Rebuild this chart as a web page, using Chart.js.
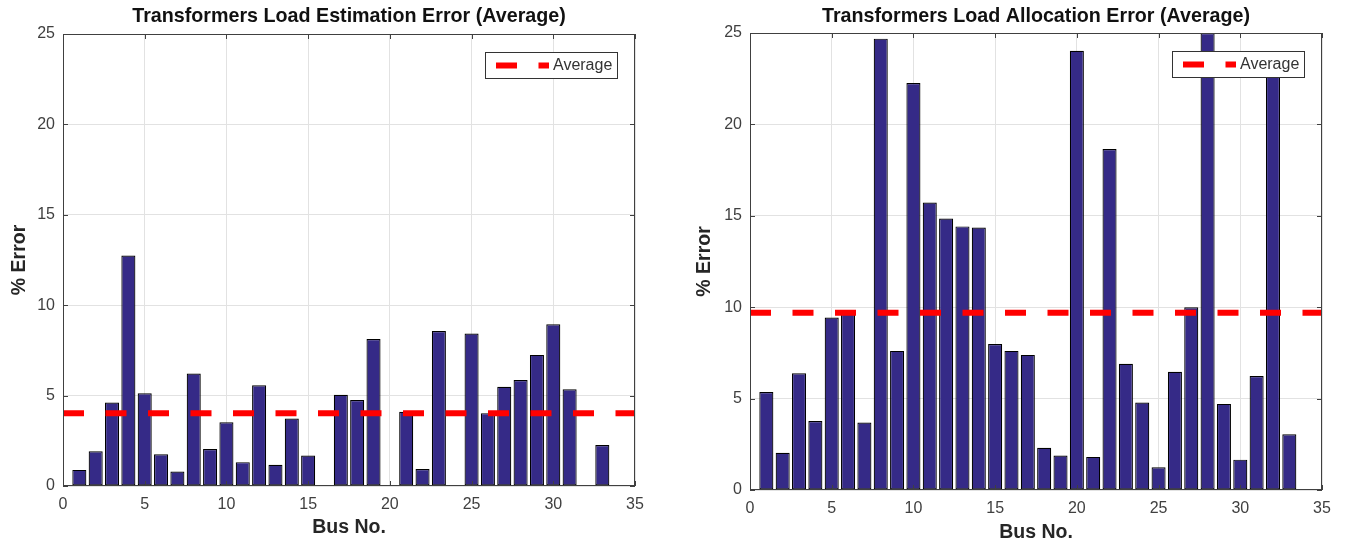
<!DOCTYPE html>
<html>
<head>
<meta charset="utf-8">
<script src="https://cdn.jsdelivr.net/npm/chart.js@4.4.1/dist/chart.umd.min.js"></script>
<style>
  html, body { margin: 0; padding: 0; background: #fff; }
  body { width: 1347px; height: 546px; position: relative; overflow: hidden; }
  canvas { position: absolute; top: 0; }
</style>
</head>
<body>
<canvas id="estimationChart" width="680" height="546" style="left:0"></canvas>
<canvas id="allocationChart" width="667" height="546" style="left:680px"></canvas>
<script>
// Data
const busNo = [1, 2, 3, 4, 5, 6, 7, 8, 9, 10, 11, 12, 13, 14, 15, 16, 17,
               18, 19, 20, 21, 22, 23, 24, 25, 26, 27, 28, 29, 30, 31, 32, 33];

const estimationError = [0.89, 1.92, 4.62, 12.75, 5.13, 1.76, 0.80, 6.22, 2.05, 3.52, 1.32,
                         5.57, 1.17, 3.73, 1.69, 0, 5.05, 4.76, 8.13, 0, 4.10, 0.94,
                         8.57, 0, 8.43, 4.03, 5.49, 5.86, 7.25, 8.94, 5.35, 0, 2.27];

const allocationError = [5.36, 2.04, 6.38, 3.77, 9.44, 9.80, 3.69, 24.69, 7.61, 22.26, 15.73,
                         14.85, 14.42, 14.36, 7.99, 7.61, 7.39, 2.31, 1.89, 24.03, 1.81, 18.65,
                         6.91, 4.79, 1.24, 6.47, 10.0, 25.0, 4.71, 1.66, 6.24, 23.0, 3.05];

const estimationAverage = 4.02;
const allocationAverage = 9.70;

const xTicks = [0, 5, 10, 15, 20, 25, 30, 35];
const yTicks = [0, 5, 10, 15, 20, 25];

const FONT = "'Liberation Sans', Arial, Helvetica, sans-serif";
const BAR_COLOR = "#352a87";
const AXIS_COLOR = "#404040";
const GRID_COLOR = "#e2e2e2";

// box around the axes, inward ticks and the bordered legend
const matlabAxes = {
    id: "matlabAxes",
    afterDatasetsDraw(chart) {
        const { ctx, chartArea: a, scales: { x, y } } = chart;
        ctx.save();
        ctx.strokeStyle = AXIS_COLOR;
        ctx.lineWidth = 1;
        ctx.beginPath();
        xTicks.forEach(v => {
            const px = Math.round(x.getPixelForValue(v)) + 0.5;
            ctx.moveTo(px, a.bottom); ctx.lineTo(px, a.bottom - 5);
            ctx.moveTo(px, a.top); ctx.lineTo(px, a.top + 5);
        });
        yTicks.forEach(v => {
            const py = Math.round(y.getPixelForValue(v)) + 0.5;
            ctx.moveTo(a.left, py); ctx.lineTo(a.left + 5, py);
            ctx.moveTo(a.right, py); ctx.lineTo(a.right - 5, py);
        });
        ctx.stroke();
        ctx.strokeRect(a.left + 0.5, a.top + 0.5, a.width - 1, a.height - 1);

        // legend
        const line = chart.data.datasets[1];
        const bx = a.right - 17 - 133, by = a.top + 18;
        ctx.fillStyle = "#fff";
        ctx.fillRect(bx, by, 133, 27);
        ctx.strokeStyle = "#333";
        ctx.strokeRect(bx + 0.5, by + 0.5, 132, 26);
        ctx.strokeStyle = line.borderColor;
        ctx.lineWidth = line.borderWidth;
        ctx.setLineDash(line.borderDash);
        ctx.beginPath();
        ctx.moveTo(bx + 11, by + 13.5);
        ctx.lineTo(bx + 64, by + 13.5);
        ctx.stroke();
        ctx.setLineDash([]);
        ctx.fillStyle = "#333";
        ctx.font = "16px " + FONT;
        ctx.textBaseline = "middle";
        ctx.fillText(line.label, bx + 68, by + 14);
        ctx.restore();
    }
};

function makeChart(id, title, values, average, o) {
    const ctx = document.getElementById(id).getContext("2d");
    return new Chart(ctx, {
        type: "bar",
        data: {
            datasets: [
                {
                    label: "Error",
                    data: busNo.map((b, i) => ({ x: b, y: values[i] })),
                    backgroundColor: BAR_COLOR,
                    borderColor: "#000",
                    borderWidth: 1.2,
                    borderSkipped: false,
                    barPercentage: 0.86,
                    categoryPercentage: 1,
                    order: 2
                },
                {
                    type: "line",
                    label: "Average",
                    data: [{ x: xTicks[0], y: average }, { x: xTicks[xTicks.length - 1], y: average }],
                    borderColor: "#ff0000",
                    borderWidth: 6,
                    borderDash: [21, 21.5],
                    borderCapStyle: "butt",
                    pointRadius: 0,
                    order: 1
                }
            ]
        },
        options: {
            responsive: false,
            animation: false,
            layout: { padding: { left: 0, right: o.padRight, top: 0, bottom: 0 } },
            plugins: {
                legend: { display: false },
                tooltip: { enabled: false },
                title: {
                    display: true,
                    text: title,
                    fullSize: false,
                    color: "#111",
                    font: { family: FONT, size: 19.7, weight: "bold", lineHeight: "22px" },
                    padding: { top: 6, bottom: o.titleBottom }
                }
            },
            scales: {
                x: {
                    type: "linear",
                    min: 0, max: 35,
                    offset: false,
                    afterFit: s => { s.height = o.xHeight; },
                    ticks: { stepSize: 5, color: AXIS_COLOR, padding: o.xTickPad, maxRotation: 0,
                             font: { family: FONT, size: 16 } },
                    grid: { color: GRID_COLOR, offset: false, drawTicks: false },
                    border: { display: false },
                    title: { display: true, text: "Bus No.", color: "#262626",
                             font: { family: FONT, size: 19.5, weight: "bold", lineHeight: "22px" },
                             padding: { top: 0, bottom: o.xTitleBottom } }
                },
                y: {
                    min: 0, max: 25,
                    afterFit: s => { s.width = o.yWidth; },
                    ticks: { stepSize: 5, color: AXIS_COLOR, padding: 8,
                             font: { family: FONT, size: 16 } },
                    grid: { color: GRID_COLOR, drawTicks: false },
                    border: { display: false },
                    title: { display: true, text: "% Error", color: "#262626",
                             font: { family: FONT, size: 19.5, weight: "bold", lineHeight: "22px" },
                             padding: { top: o.yTitleTop, bottom: 0 } }
                }
            }
        },
        plugins: [matlabAxes]
    });
}

makeChart("estimationChart", "Transformers Load Estimation Error (Average)", estimationError, estimationAverage,
    { padRight: 45, titleBottom: 6, xHeight: 60, xTickPad: 9, xTitleBottom: 7.5, yWidth: 63, yTitleTop: 8.5 });

makeChart("allocationChart", "Transformers Load Allocation Error (Average)", allocationError, allocationAverage,
    { padRight: 25, titleBottom: 5, xHeight: 56, xTickPad: 9, xTitleBottom: 2, yWidth: 70, yTitleTop: 14 });
</script>
</body>
</html>
